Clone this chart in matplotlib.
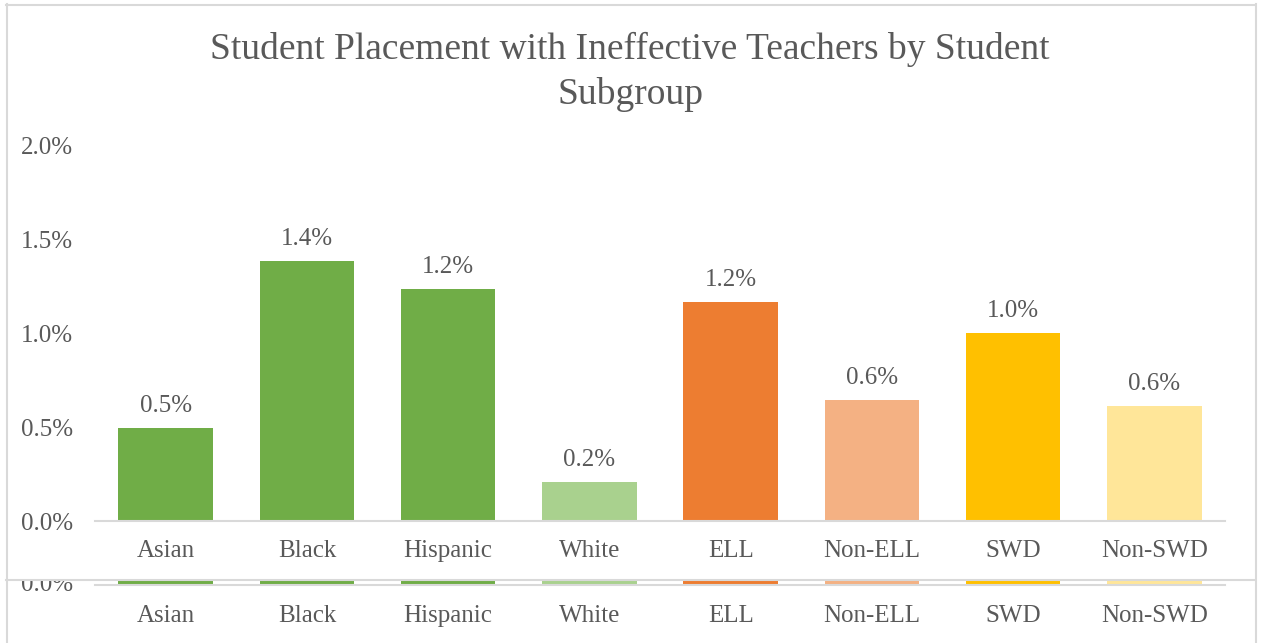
import matplotlib.pyplot as plt
from matplotlib.lines import Line2D

categories = ["Asian", "Black", "Hispanic", "White", "ELL", "Non-ELL", "SWD", "Non-SWD"]
values = [0.495, 1.383, 1.234, 0.207, 1.165, 0.644, 1.0, 0.612]
labels = ["0.5%", "1.4%", "1.2%", "0.2%", "1.2%", "0.6%", "1.0%", "0.6%"]
colors = ["#70AD47", "#70AD47", "#70AD47", "#A9D18E",
          "#ED7D31", "#F4B183", "#FFC000", "#FFE699"]
yticks = [0.0, 0.5, 1.0, 1.5, 2.0]
title = "Student Placement with Ineffective Teachers by Student\nSubgroup"

W, H = 1263, 643
txt = "#595959"
grid = "#D9D9D9"
fs = 18
plt.rcParams['font.family'] = ['Liberation Serif', 'DejaVu Serif']

fig = plt.figure(figsize=(W / 100, H / 100), dpi=100)

def px(x0, y0, x1, y1):
    # pixel box (top-left origin) -> figure fraction rect
    return [x0 / W, 1 - y1 / H, (x1 - x0) / W, (y1 - y0) / H]

# main chart: baseline at y=521, 2.0% at y=145
ax = fig.add_axes(px(95, 145, 1225, 521))
x = range(len(categories))
ax.bar(x, values, width=0.67, color=colors, zorder=2)
for i, (v, lab) in enumerate(zip(values, labels)):
    ax.annotate(lab, (i, v), xytext=(0, 8), textcoords="offset points",
                ha="center", va="bottom", fontsize=fs, color=txt)
ax.set_xlim(-0.5, 7.5)
ax.set_ylim(0, 2.0)
ax.set_yticks(yticks)
ax.set_yticklabels([f"{t:.1f}%" for t in yticks], fontsize=fs, color=txt)
ax.set_xticks(list(x))
ax.set_xticklabels(categories, fontsize=fs, color=txt)
ax.tick_params(length=0)
ax.tick_params(axis="y", pad=16)
ax.tick_params(axis="x", pad=14)
for s in ["top", "right", "left"]:
    ax.spines[s].set_visible(False)
ax.spines["bottom"].set_color(grid)
ax.spines["bottom"].set_linewidth(1.5)

fig.text(630 / W, 1 - 72 / H, title, ha="center", va="center",
         fontsize=27, color=txt, linespacing=1.35)

# duplicated strip at the bottom (rendering artifact), shifted 64 px down
scale = 1130 / 8.0
ax2 = fig.add_axes(px(0, 580, W, H))
ax2.set_xlim(-0.5 - 95 / scale, 7.5 + (W - 1225) / scale)
ax2.set_ylim(-(H - 585) / 188.0, 5 / 188.0)
ax2.axis("off")
ax2.bar(x, values, width=0.67, color=colors, zorder=2)
ax2.plot([-0.5, 7.5], [0, 0], color=grid, lw=1.5, zorder=3)
ax2.text(-0.5 - 22 / scale, 0, "0.0%", ha="right", va="center",
         fontsize=fs, color=txt, clip_on=True)
for i, c in enumerate(categories):
    ax2.text(i, -31 / 188.0, c, ha="center", va="center", fontsize=fs, color=txt)

# outer frame
border = "#D9D9D9"
fig.add_artist(Line2D([6 / W, 1255 / W], [1 - 4.5 / H, 1 - 4.5 / H], color=border, lw=1.5))
fig.add_artist(Line2D([6 / W, 1255 / W], [1 - 580 / H, 1 - 580 / H], color=border, lw=1.5))
fig.add_artist(Line2D([6.5 / W, 6.5 / W], [1 - 4 / H, 0], color=border, lw=1.5))
fig.add_artist(Line2D([1255.5 / W, 1255.5 / W], [1 - 4 / H, 0], color=border, lw=1.5))

fig.savefig("out.png", dpi=100)
